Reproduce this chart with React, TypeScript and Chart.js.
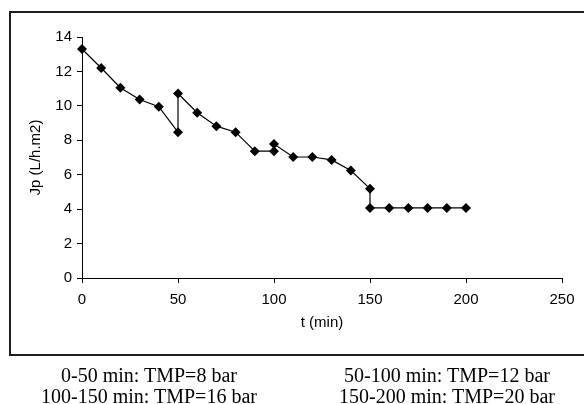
import React, { useEffect, useRef } from "react";
import { Chart, registerables } from "chart.js";

Chart.register(...registerables);

const timeMin = [0, 10, 20, 30, 40, 50, 50, 60, 70, 80, 90, 100, 100, 110, 120, 130, 140, 150, 150, 160, 170, 180, 190, 200];
const fluxJp = [13.3, 12.2, 11.05, 10.37, 9.95, 8.47, 10.72, 9.6, 8.82, 8.47, 7.37, 7.37, 7.78, 7.03, 7.03, 6.86, 6.24, 5.19, 4.07, 4.07, 4.07, 4.07, 4.07, 4.07];
const captionLeft = ["0-50 min: TMP=8 bar", "100-150 min: TMP=16 bar"];
const captionRight = ["50-100 min: TMP=12 bar", "150-200 min: TMP=20 bar"];

export default function App() {
  const ref = useRef<HTMLCanvasElement | null>(null);

  useEffect(() => {
    if (!ref.current) return;
    const tickFont = { family: "'Liberation Sans', Arial, sans-serif", size: 15 };
    const chart = new Chart(ref.current, {
      type: "line",
      data: {
        datasets: [
          {
            data: timeMin.map((t, i) => ({ x: t, y: fluxJp[i] })),
            borderColor: "#000",
            backgroundColor: "#000",
            borderWidth: 1.2,
            pointStyle: "rectRot",
            pointRadius: 5,
            pointBorderWidth: 0,
            pointBackgroundColor: "#000",
            tension: 0,
            clip: false,
          },
        ],
      },
      options: {
        responsive: false,
        animation: false,
        layout: { padding: { left: 10, right: 22, top: 37, bottom: 66 } },
        plugins: { legend: { display: false }, tooltip: { enabled: false } },
        scales: {
          x: {
            type: "linear",
            min: 0,
            max: 250,
            ticks: { stepSize: 50, color: "#000", font: tickFont, padding: 8, maxRotation: 0 },
            grid: { drawOnChartArea: false, drawTicks: true, tickLength: 5, color: "#000" },
            border: { display: true, color: "#000", width: 1 },
            title: { display: true, text: "t (min)", color: "#000", font: tickFont, padding: { top: 0, bottom: 6 } },
            afterFit: (s: any) => { s.height = 60; },
          },
          y: {
            min: 0,
            max: 14,
            ticks: { stepSize: 2, color: "#000", font: tickFont, padding: 5 },
            grid: { drawOnChartArea: false, drawTicks: true, tickLength: 5, color: "#000" },
            border: { display: true, color: "#000", width: 1 },
            title: { display: true, text: "Jp (L/h.m2)", color: "#000", font: tickFont, padding: { top: 17, bottom: 0 } },
            afterFit: (s: any) => { s.width = 72; },
          },
        },
      },
    });
    return () => chart.destroy();
  }, []);

  const capStyle: React.CSSProperties = {
    position: "absolute",
    top: 365,
    width: 300,
    textAlign: "center",
    fontFamily: "'Liberation Serif', 'Times New Roman', serif",
    fontSize: 20,
    lineHeight: "20.5px",
    color: "#000",
    whiteSpace: "nowrap",
  };

  const line = "#1e1e1e";

  return (
    <div style={{ position: "absolute", left: 0, top: 0, width: 584, height: 404, overflow: "hidden", background: "#fff" }}>
      <div style={{ position: "absolute", left: 9, top: 11, width: 575, height: 2, background: line }} />
      <div style={{ position: "absolute", left: 9, top: 354, width: 575, height: 2, background: line }} />
      <div style={{ position: "absolute", left: 9, top: 11, width: 2, height: 345, background: line }} />
      <canvas ref={ref} width={584} height={404} style={{ position: "absolute", left: 0, top: 0, width: 584, height: 404 }} />
      <div style={{ ...capStyle, left: 149 - 150 }}>
        {captionLeft.map((t) => (
          <div key={t}>{t}</div>
        ))}
      </div>
      <div style={{ ...capStyle, left: 447 - 150 }}>
        {captionRight.map((t) => (
          <div key={t}>{t}</div>
        ))}
      </div>
    </div>
  );
}
